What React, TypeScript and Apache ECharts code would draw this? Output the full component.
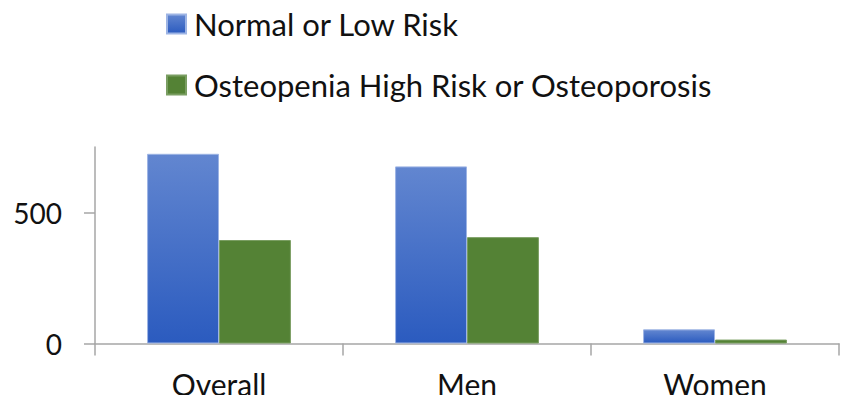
import React, { useEffect, useRef } from "react";
import * as echarts from "echarts";

const categories = ["Overall", "Men", "Women"];
const normalLowRisk = [724, 676, 54];
const osteoHighRisk = [395, 406, 15];
const yTicks = [0, 500];
const seriesNames = ["Normal or Low Risk", "Osteopenia High Risk or Osteoporosis"];

export default function App() {
  const ref = useRef<HTMLDivElement>(null);
  useEffect(() => {
    const chart = echarts.init(ref.current!, null, { renderer: "svg" });
    const font = "Lato, 'Noto Sans', sans-serif";
    const axisColor = "#a6a6a6";
    const blue = new echarts.graphic.LinearGradient(0, 0, 0, 1, [
      { offset: 0, color: "#6286d0" },
      { offset: 1, color: "#2b5bbf" },
    ]);
    chart.setOption({
      animation: false,
      backgroundColor: "#ffffff",
      textStyle: { fontFamily: font },
      legend: {
        orient: "vertical",
        left: 161,
        top: 3,
        itemWidth: 19,
        itemHeight: 19,
        itemGap: 29,
        icon: "rect",
        textStyle: { fontFamily: font, fontSize: 31, color: "#111", lineHeight: 32, padding: [0, 0, 0, 3] },
        data: seriesNames,
      },
      grid: { left: 95, right: 9, top: 147, bottom: 59.5 },
      xAxis: {
        type: "category",
        data: categories,
        axisLine: { lineStyle: { color: axisColor, width: 1.5 } },
        axisTick: { show: true, length: 12, interval: 0, lineStyle: { color: axisColor, width: 1.5 } },
        axisLabel: { fontFamily: font, fontSize: 30, color: "#111", margin: 25 },
      },
      yAxis: {
        type: "value",
        min: 0,
        max: 750,
        interval: 500,
        splitLine: { show: false },
        axisLine: { show: true, lineStyle: { color: axisColor, width: 1.5 } },
        axisTick: { show: true, length: 11, customValues: yTicks, lineStyle: { color: axisColor, width: 1.5 } },
        axisLabel: { fontFamily: font, fontSize: 28, color: "#111", margin: 33, customValues: yTicks },
      },
      series: [
        {
          name: seriesNames[0],
          type: "bar",
          data: normalLowRisk,
          barGap: "0%",
          barCategoryGap: "42%",
          itemStyle: { color: blue, borderColor: "#9db4e4", borderWidth: 1 },
        },
        {
          name: seriesNames[1],
          type: "bar",
          data: osteoHighRisk,
          itemStyle: { color: "#548235", borderColor: "#7a9e62", borderWidth: 1 },
        },
      ],
    });
    return () => chart.dispose();
  }, []);
  return <div ref={ref} style={{ width: 848, height: 403, margin: -8 }} />;
}
